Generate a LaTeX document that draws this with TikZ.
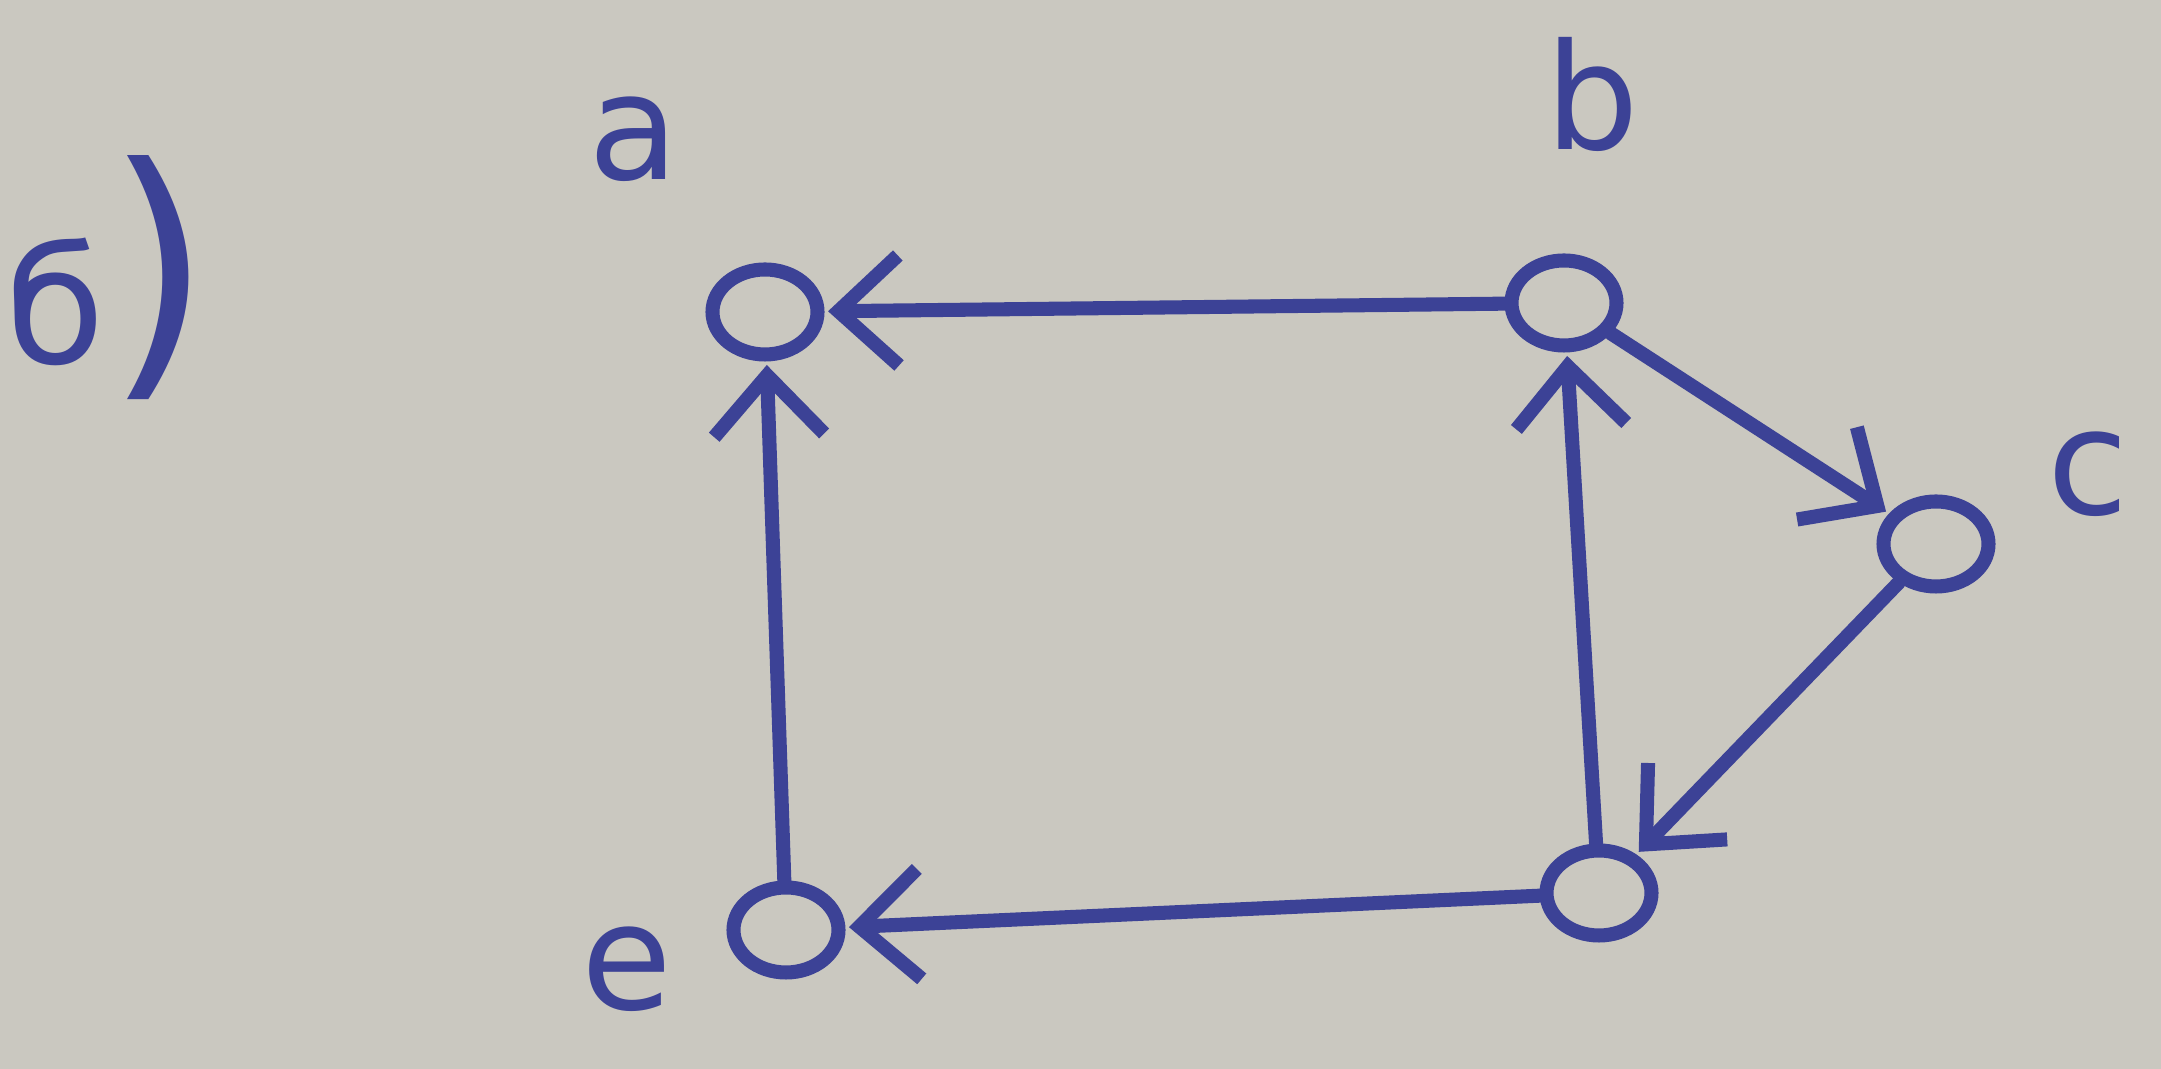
\documentclass[tikz,border=0pt]{standalone}
\usepackage{fontspec}
\setmainfont{DejaVu Sans}
\usetikzlibrary{arrows.meta,shapes.geometric}
\definecolor{paper}{RGB}{202,200,192}
\definecolor{ink}{RGB}{60,66,150}
\begin{document}
\begin{tikzpicture}[>={Straight Barb[length=6mm,width=11mm]},
vert/.style={draw=ink, line width=4pt, ellipse, minimum width=1.05cm, minimum height=0.85cm, inner sep=0pt},
lbl/.style={text=ink, font=\fontsize{42}{42}\selectfont},
arc/.style={->, draw=ink, line width=4pt, line cap=round, shorten >=1pt}]
\useasboundingbox[fill=paper] (0,0) rectangle (21.61,10.69);
% part label at the left edge
\node[text=ink, font=\fontsize{46}{46}\selectfont, anchor=west, inner sep=0pt] (part) at (0.05,7.91) {б{\fontsize{78}{78}\selectfont)}};
% vertices
\node[vert] (a) at (7.65,7.57) {};
\node[vert] (b) at (15.64,7.66) {};
\node[vert] (c) at (19.36,5.25) {};
\node[vert] (d) at (15.99,1.76) {};
\node[vert] (e) at (7.86,1.39) {};
\node[lbl] (la) at (6.34,9.30) {a};
\node[lbl] (lb) at (15.92,9.75) {b};
\node[lbl] (lc) at (20.88,5.95) {c};
\node[lbl] (le) at (6.27,1.00) {e};
% arcs
\draw[arc] (b) -- (a);
\draw[arc] (e) -- (a);
\draw[arc] (d) -- (b);
\draw[arc] (b) -- (c);
\draw[arc] (c) -- (d);
\draw[arc] (d) -- (e);
\end{tikzpicture}
\end{document}
